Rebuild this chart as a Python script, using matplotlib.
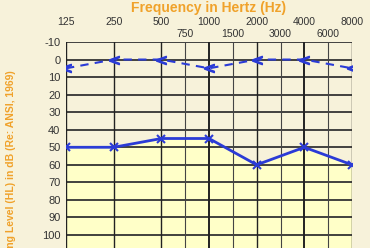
import numpy as np
import matplotlib.pyplot as plt

# audiogram data
freqs = ['125', '250', '500', '1000', '2000', '4000', '8000']
mid_freqs = ['750', '1500', '3000', '6000']
db_ticks = [-10, 0, 10, 20, 30, 40, 50, 60, 70, 80, 90, 100]
bone = [5, 0, 0, 5, 0, 0, 5]          # dashed, "<" markers
air = [50, 50, 45, 45, 60, 50, 60]    # solid, "x" markers

plt.rcParams['font.family'] = ['Liberation Sans', 'DejaVu Sans']

bg = '#F7F2DA'
fig = plt.figure(figsize=(3.7, 2.48), dpi=100, facecolor=bg)
ax = fig.add_axes([66 / 370, 0, (352 - 66) / 370, 1 - 42 / 248])
ax.set_facecolor('#FFFFC8')

x = np.arange(len(freqs))
xm = np.arange(len(mid_freqs)) + 2.5

ax.set_xlim(0, len(freqs) - 1)
ax.set_ylim(100 + (248 - 235) / 17.55 * 10, -10)

# textured upper area above the air-conduction line
ax.fill_between(x, -10, air, color=bg, zorder=0)

# grid
for v in db_ticks:
    ax.axhline(v, color='#333333', lw=1.3, zorder=1)
for xi in x:
    ax.axvline(xi, color='#222222', lw=1.4 if xi in (3, 5) else 1.0, zorder=1)
for xi in xm:
    ax.axvline(xi, color='#444444', lw=0.8, zorder=1)

blue = '#2B3BD6'
ax.plot(x, bone, color=blue, lw=1.5, ls=(0, (4, 3)), marker='$<$',
        markersize=7, zorder=3)
ax.plot(x, air, color=blue, lw=2, marker='x', markersize=6, mew=1.5, zorder=3)

ax.set_yticks(db_ticks)
ax.set_yticklabels([str(v) for v in db_ticks])
ax.set_xticks(x)
ax.set_xticklabels(freqs)
ax.set_xticks(xm, minor=True)
ax.set_xticklabels(mid_freqs, minor=True)

ax.tick_params(axis='x', which='both', top=True, labeltop=True, bottom=False,
               labelbottom=False, length=0, labelsize=7.5, labelcolor='#333333')
ax.tick_params(axis='x', which='major', pad=11)
ax.tick_params(axis='x', which='minor', pad=2.5)
ax.tick_params(axis='y', length=0, pad=4, labelsize=8, labelcolor='#333333')

for s in ax.spines.values():
    s.set_visible(False)

orange = '#F0A22A'
fig.text(209 / 370, 1 - 8 / 248, 'Frequency in Hertz (Hz)', ha='center',
         va='center', fontsize=10, fontweight='bold', color=orange)
fig.text(11 / 370, 1 - 70 / 248, 'Hearing Level (HL) in dB (Re: ANSI, 1969)',
         rotation=90, ha='center', va='top', fontsize=7.5, fontweight='bold',
         color=orange)

fig.savefig('out.png', dpi=100, facecolor=bg)
